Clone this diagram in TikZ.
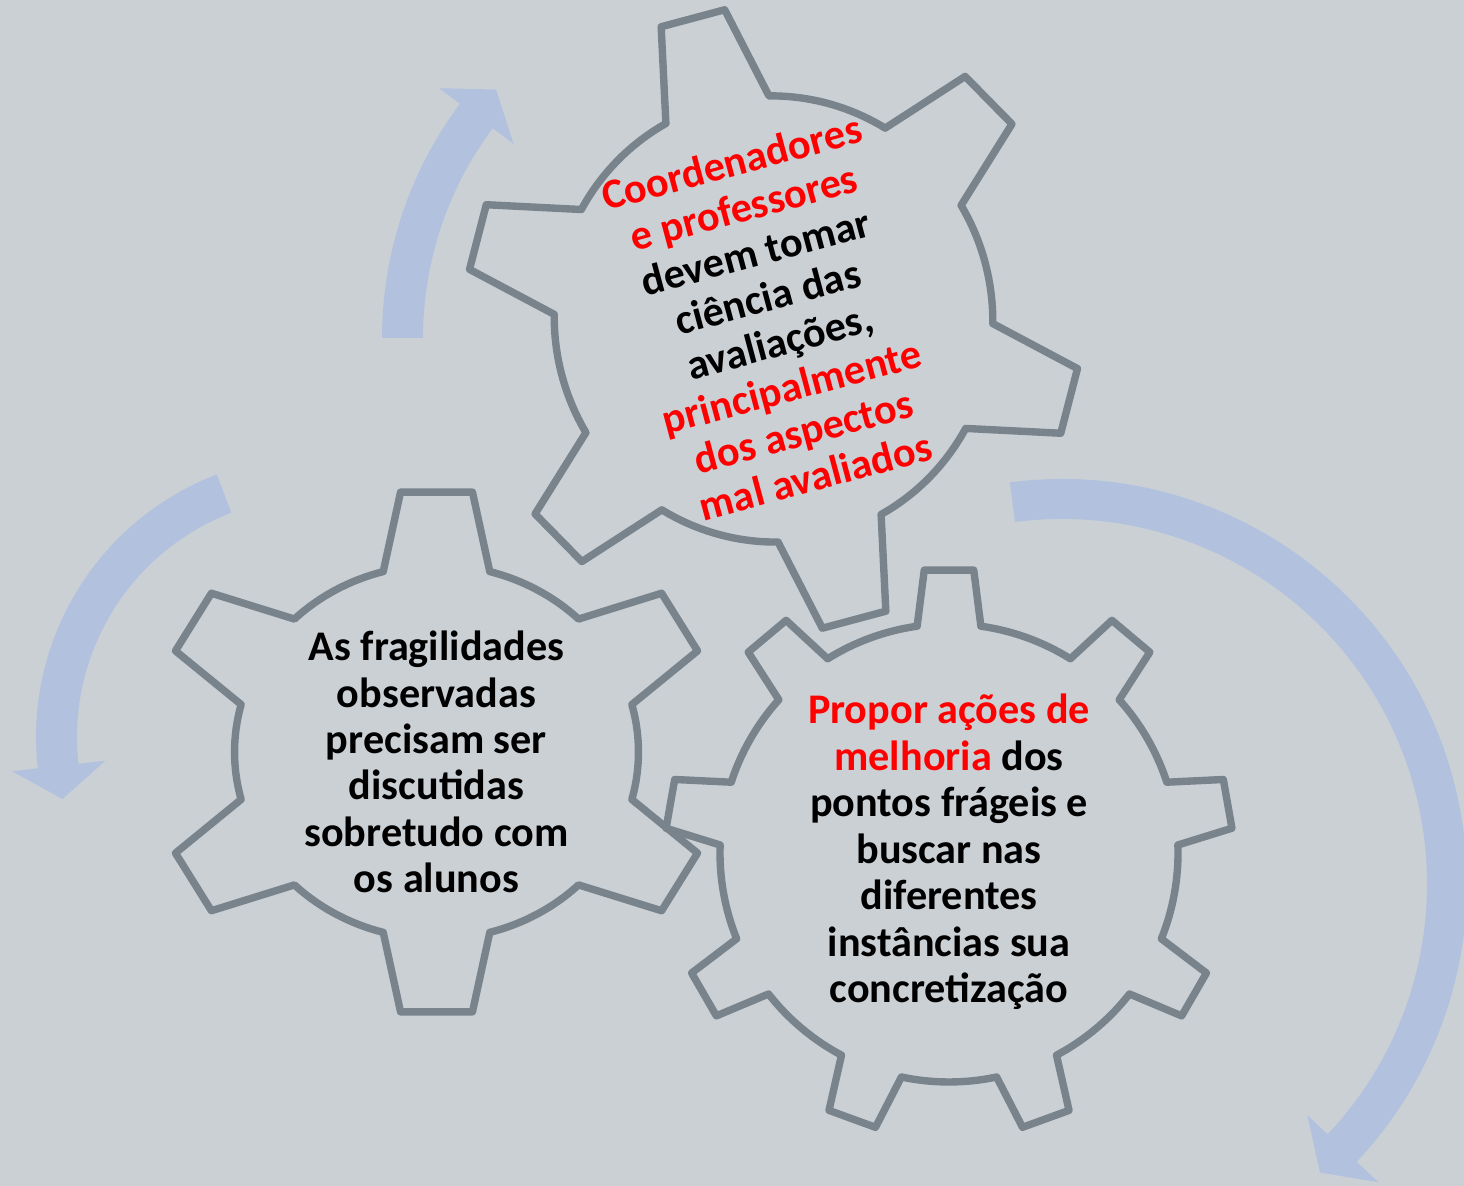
\documentclass[tikz,border=0pt]{standalone}
\usepackage{fontspec}
\setmainfont{Carlito}
\usetikzlibrary{calc}
\definecolor{BackGray}{RGB}{203,208,213}
\definecolor{GearGray}{RGB}{120,131,140}
\definecolor{ArrowBlue}{RGB}{178,194,222}
\definecolor{TextRed}{RGB}{255,0,0}

\tikzset{
  gearline/.style={draw=GearGray, line width=2.1pt, line join=round},
  arrowfill/.style={fill=ArrowBlue},
  geartext/.style={align=center, inner sep=0pt,
    font=\bfseries\fontsize{12}{13.2}\selectfont}
}

%% teeth, outer radius, base radius, outer half angle, base half angle
\newcommand{\gearoutline}[5]{%
  \draw[gearline] ({90-#5}:#3)
  \foreach \k in {1,...,#1}{
    -- ({90+(\k-1)*360/#1-#4}:#2) -- ({90+(\k-1)*360/#1+#4}:#2)
    -- ({90+(\k-1)*360/#1+#5}:#3)
    arc[start angle={90+(\k-1)*360/#1+#5}, delta angle={360/#1-2*#5}, radius=#3]
  } -- cycle;}

\begin{document}
\begin{tikzpicture}[x=0.01cm, y=0.01cm]
    %%Background
    \fill[BackGray] (0,0) rectangle (1464,1186);
    \useasboundingbox (0,0) rectangle (1464,1186);
    %%Centres
    \coordinate (gearTop) at (773.5,867);
    \coordinate (gearLeft) at (436.5,434);
    \coordinate (gearRight) at (949,333);
    \coordinate (arrowTop) at (773,848);
    \coordinate (arrowLeft) at (317,449);
    \coordinate (arrowRight) at (1062,302);
    %%Arrows
    \fill[arrowfill] ($(arrowTop)+(180:391)$) arc[start angle=180, end angle=143.2, radius=391]
      -- ($(arrowTop)+(143.2:417)$) -- ($(arrowTop)+(138.1:372)$) -- ($(arrowTop)+(143.2:324)$)
      -- ($(arrowTop)+(143.2:350)$) arc[start angle=143.2, end angle=180, radius=350] -- cycle;
    \fill[arrowfill] ($(arrowLeft)+(110.9:281)$) arc[start angle=110.9, end angle=186.4, radius=281]
      -- ($(arrowLeft)+(186.4:307)$) -- ($(arrowLeft)+(193.7:262)$) -- ($(arrowLeft)+(186.4:213)$)
      -- ($(arrowLeft)+(186.4:240)$) arc[start angle=186.4, end angle=110.9, radius=240] -- cycle;
    \fill[arrowfill] ($(arrowRight)+(97.4:405)$) arc[start angle=97.4, end angle=-43.3, radius=405]
      -- ($(arrowRight)+(-43.3:435)$) -- ($(arrowRight)+(-48.2:387)$) -- ($(arrowRight)+(-43.3:337)$)
      -- ($(arrowRight)+(-43.3:365)$) arc[start angle=-43.3, end angle=97.4, radius=365] -- cycle;
    %%Gears
    \begin{scope}[shift={(gearTop)}, rotate=15, yscale=1.02]
      \gearoutline{6}{307}{219}{6.15}{14.1}
    \end{scope}
    \begin{scope}[shift={(gearLeft)}, xscale=1.08]
      \gearoutline{6}{262}{187}{7.3}{15.3}
    \end{scope}
    \begin{scope}[shift={(gearRight)}]
      \gearoutline{9}{284}{229}{5}{8}
    \end{scope}
    %%Texts
    \node[geartext, rotate=15] (coordenadores) at (gearTop)
      {\textcolor{TextRed}{Coordenadores}\\
       \textcolor{TextRed}{e professores}\\
       devem tomar\\ ciência das\\ avaliações,\\
       \textcolor{TextRed}{principalmente}\\
       \textcolor{TextRed}{dos aspectos}\\
       \textcolor{TextRed}{mal avaliados}};
    \node[geartext] (fragilidades) at ($(gearLeft)+(0,-10)$)
      {As fragilidades\\ observadas\\ precisam ser\\ discutidas\\ sobretudo com\\ os alunos};
    \node[geartext] (propor) at ($(gearRight)+(0,1)$)
      {\textcolor{TextRed}{Propor ações de}\\
       \textcolor{TextRed}{melhoria} dos\\ pontos frágeis e\\ buscar nas\\ diferentes\\
       instâncias sua\\ concretização};
\end{tikzpicture}
\end{document}
